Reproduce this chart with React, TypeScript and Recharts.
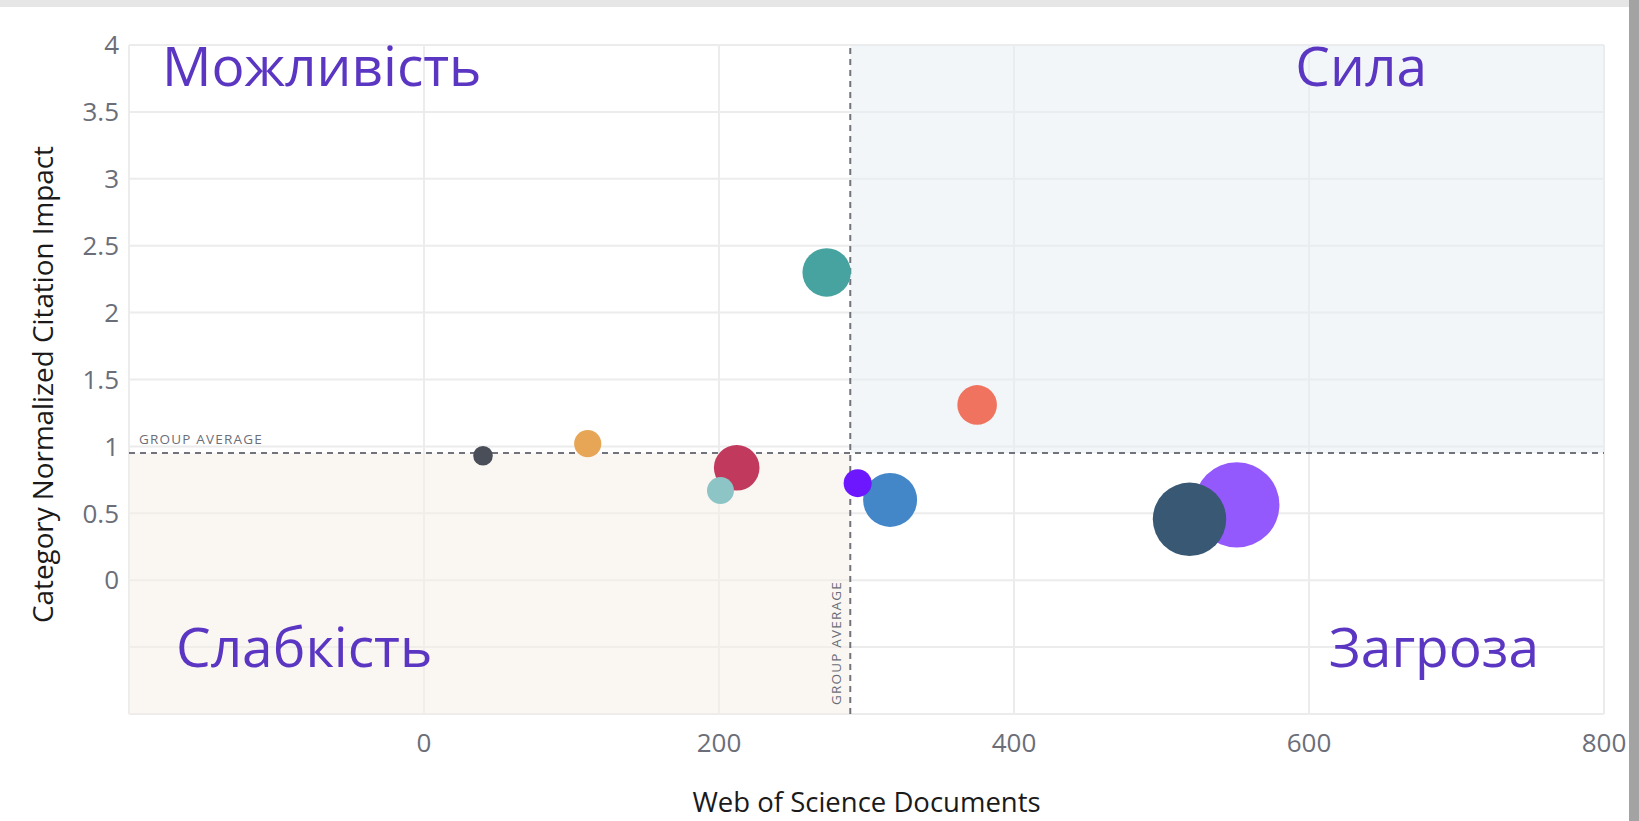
import React from 'react';
import {
  ScatterChart,
  Scatter,
  XAxis,
  YAxis,
  ZAxis,
  CartesianGrid,
  ReferenceLine,
  ReferenceArea,
  Cell,
} from 'recharts';

// bubbles, drawn back to front
const documents = [273, 375, 111, 40, 212, 201, 316, 294, 551, 519];
const citationImpact = [2.3, 1.31, 1.02, 0.93, 0.84, 0.67, 0.6, 0.725, 0.563, 0.455];
const bubbleSize = [586, 392, 185, 96, 520, 182, 729, 196, 1823, 1347];
const colors = ['#46a3a0', '#ef735f', '#e6a656', '#4a4e58', '#c13a5d', '#8dc4c5', '#4387c9', '#6c17fe', '#9459fd', '#385873'];

const xTicks = [-200, 0, 200, 400, 600, 800];
const yTicks = [-1, -0.5, 0, 0.5, 1, 1.5, 2, 2.5, 3, 3.5, 4];

const avgDocuments = 289;
const avgImpact = 0.95;

const quadrantLabels = ['Можливість', 'Сила', 'Слабкість', 'Загроза'];

const data = documents.map((x, i) => ({ x, y: citationImpact[i], z: bubbleSize[i] }));

const FONT = '"Open Sans", sans-serif';
const PURPLE = '#5b36c2';
const GRAY = '#6b6e78';

const quadText = (text: string, pos: 'tl' | 'tr' | 'bl' | 'br') => (props: any) => {
  const vb = props.viewBox;
  const left = pos === 'tl' || pos === 'bl';
  const top = pos === 'tl' || pos === 'tr';
  const x = left ? vb.x + (pos === 'tl' ? 33 : 47) : vb.x + vb.width - (pos === 'tr' ? 177 : 65);
  const y = top ? vb.y + 41 : vb.y + vb.height - 47;
  return (
    <text x={x} y={y} textAnchor={left ? 'start' : 'end'} fill={PURPLE} fontSize={55} fontFamily={FONT}>
      {text}
    </text>
  );
};

export default function App() {
  return (
    <div style={{ position: 'absolute', left: 0, top: 0, width: 1639, height: 821, background: '#fff', fontFamily: FONT, overflow: 'hidden' }}>
      <div style={{ position: 'absolute', left: 0, top: 0, width: 1639, height: 7, background: '#e6e6e6' }} />
      <div style={{ position: 'absolute', left: 1629, top: 0, width: 10, height: 821, background: '#a3a3a3' }} />
      <ScatterChart width={1629} height={821} margin={{ top: 45, right: 25, bottom: 0, left: 0 }}>
        <CartesianGrid stroke="#ececec" strokeWidth={2} />
        <ReferenceArea
          x1={-200} x2={avgDocuments} y1={avgImpact} y2={4}
          fill="#ffffff" fillOpacity={0} stroke="none"
          label={quadText(quadrantLabels[0], 'tl')}
        />
        <ReferenceArea
          x1={avgDocuments} x2={800} y1={avgImpact} y2={4}
          fill="#e7edf3" fillOpacity={0.5} stroke="none"
          label={quadText(quadrantLabels[1], 'tr')}
        />
        <ReferenceArea
          x1={-200} x2={avgDocuments} y1={-1} y2={avgImpact}
          fill="#f5f0e8" fillOpacity={0.5} stroke="none"
          label={quadText(quadrantLabels[2], 'bl')}
        />
        <ReferenceArea
          x1={avgDocuments} x2={800} y1={-1} y2={avgImpact}
          fill="#ffffff" fillOpacity={0} stroke="none"
          label={quadText(quadrantLabels[3], 'br')}
        />
        <XAxis
          type="number"
          dataKey="x"
          domain={[-200, 800]}
          ticks={xTicks}
          tickFormatter={(v: number) => (v < 0 ? '' : String(v))}
          axisLine={false}
          tickLine={false}
          tickMargin={14}
          height={107}
          tick={{ fill: GRAY, fontSize: 26, fontFamily: FONT }}
          label={(props: any) => {
            const vb = props.viewBox;
            return (
              <text x={vb.x + vb.width / 2} y={vb.y + 98} textAnchor="middle" fill="#1a1a1a" fontSize={27.5} fontFamily={FONT}>
                Web of Science Documents
              </text>
            );
          }}
        />
        <YAxis
          type="number"
          dataKey="y"
          domain={[-1, 4]}
          ticks={yTicks}
          tickFormatter={(v: number) => (v < 0 ? '' : String(v))}
          axisLine={false}
          tickLine={false}
          tickMargin={4}
          width={129}
          tick={{ fill: GRAY, fontSize: 26, fontFamily: FONT }}
          label={(props: any) => {
            const vb = props.viewBox;
            const cy = vb.y + vb.height / 2 + 5;
            return (
              <text transform={`translate(53, ${cy}) rotate(-90)`} x={0} y={0} textAnchor="middle" fill="#1a1a1a" fontSize={27.8} fontFamily={FONT}>
                Category Normalized Citation Impact
              </text>
            );
          }}
        />
        <ZAxis type="number" dataKey="z" domain={[0, 2000]} range={[0, 2000 * Math.PI]} />
        <ReferenceLine
          y={avgImpact}
          stroke="#72747d"
          strokeWidth={2}
          strokeDasharray="6 5"
          label={(props: any) => {
            const vb = props.viewBox;
            return (
              <text x={vb.x + 10} y={vb.y - 9} fill={GRAY} fontSize={13.5} letterSpacing={1.2} fontFamily={FONT}>
                GROUP AVERAGE
              </text>
            );
          }}
        />
        <ReferenceLine
          x={avgDocuments}
          stroke="#72747d"
          strokeWidth={2}
          strokeDasharray="6 5"
          label={(props: any) => {
            const vb = props.viewBox;
            return (
              <text
                transform={`translate(${vb.x - 9}, ${vb.y + vb.height - 9}) rotate(-90)`}
                x={0}
                y={0}
                fill={GRAY}
                fontSize={13.5}
                letterSpacing={1.2}
                fontFamily={FONT}
              >
                GROUP AVERAGE
              </text>
            );
          }}
        />
        <Scatter data={data} isAnimationActive={false}>
          {data.map((_, i) => (
            <Cell key={i} fill={colors[i]} />
          ))}
        </Scatter>
      </ScatterChart>
    </div>
  );
}
